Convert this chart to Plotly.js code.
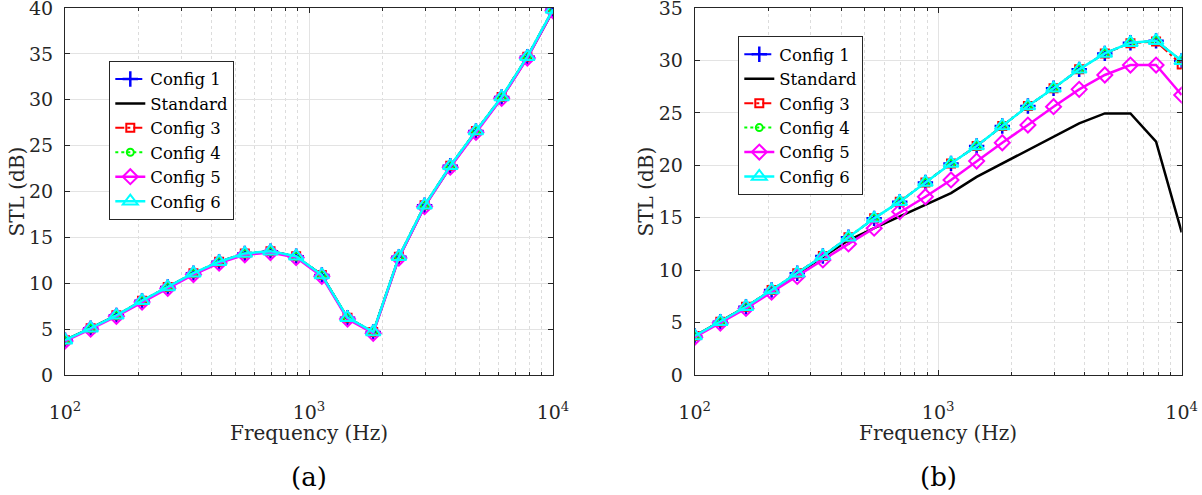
<!DOCTYPE html>
<html>
<head>
<meta charset="utf-8">
<script src="https://cdn.plot.ly/plotly-3.0.1.min.js"></script>
<style>html,body{margin:0;padding:0;background:#fff;}#chart{width:1202px;height:495px;}</style>
</head>
<body>
<div id="chart"></div>
<script>
// 1/3-octave-like frequencies (Hz), 20 points from 100 Hz to 10 kHz
const freq = [100, 127.4, 162.4, 206.9, 263.7, 336.0, 428.1, 545.6, 695.2, 885.9,
              1128.8, 1438.4, 1832.9, 2335.7, 2976.4, 3792.7, 4832.9, 6158.5, 7847.6, 10000];

const seriesNames = ['Config 1', 'Standard', 'Config 3', 'Config 4', 'Config 5', 'Config 6'];

// Panel (a) STL values (dB)
const a_config1  = [3.8, 5.1, 6.5, 8.1, 9.6, 11.1, 12.35, 13.25, 13.5, 12.95, 10.9, 6.25, 4.7, 12.9, 18.5, 22.8, 26.6, 30.3, 34.7, 39.85];
const a_standard = [3.8, 5.1, 6.5, 8.0, 9.6, 11.0, 12.3, 13.2, 13.45, 12.9, 10.85, 6.2, 4.65, 12.8, 18.4, 22.7, 26.5, 30.2, 34.6, 39.7];
const a_config3  = [3.8, 5.1, 6.5, 8.1, 9.6, 11.1, 12.35, 13.25, 13.5, 12.95, 10.9, 6.25, 4.7, 12.9, 18.5, 22.8, 26.6, 30.3, 34.7, 39.85];
const a_config4  = [3.8, 5.1, 6.5, 8.1, 9.6, 11.1, 12.35, 13.25, 13.5, 12.95, 10.9, 6.25, 4.7, 12.9, 18.5, 22.8, 26.6, 30.3, 34.7, 39.85];
const a_config5  = [3.7, 5.0, 6.4, 7.95, 9.45, 10.95, 12.2, 13.1, 13.35, 12.8, 10.75, 6.1, 4.55, 12.75, 18.35, 22.65, 26.45, 30.15, 34.55, 39.7];
const a_config6  = [3.8, 5.1, 6.5, 8.1, 9.6, 11.1, 12.35, 13.25, 13.5, 12.95, 10.9, 6.25, 4.7, 12.9, 18.5, 22.8, 26.6, 30.3, 34.7, 39.85];

// Panel (b) STL values (dB)
const b_config1  = [3.72, 5.08, 6.51, 8.1, 9.7, 11.35, 13.13, 14.94, 16.53, 18.37, 20.18, 21.84, 23.75, 25.65, 27.34, 29.15, 30.67, 31.69, 31.88, 29.97];
const b_standard = [3.72, 5.08, 6.5, 8.05, 9.65, 11.25, 12.85, 14.0, 15.1, 16.2, 17.35, 18.9, 20.18, 21.5, 22.8, 24.0, 24.95, 24.95, 22.25, 13.6];
const b_config3  = [3.72, 5.08, 6.51, 8.1, 9.7, 11.35, 13.13, 14.94, 16.53, 18.37, 20.18, 21.84, 23.75, 25.65, 27.34, 29.15, 30.67, 31.65, 31.8, 29.6];
const b_config4  = [3.72, 5.08, 6.51, 8.1, 9.7, 11.35, 13.13, 14.94, 16.53, 18.37, 20.18, 21.84, 23.75, 25.65, 27.34, 29.15, 30.67, 31.69, 31.88, 29.97];
const b_config5  = [3.6, 4.95, 6.35, 7.9, 9.4, 10.97, 12.5, 14.0, 15.58, 17.0, 18.6, 20.4, 22.15, 23.84, 25.59, 27.24, 28.61, 29.56, 29.56, 26.7];
const b_config6  = [3.72, 5.08, 6.51, 8.1, 9.7, 11.35, 13.13, 14.94, 16.53, 18.37, 20.18, 21.84, 23.75, 25.65, 27.34, 29.15, 30.67, 31.69, 31.88, 29.97];

const xTickVals = [100, 1000, 10000];
const xTickText = ['10<sup>2</sup>', '10<sup>3</sup>', '10<sup>4</sup>'];
const xMinorVals = [200, 300, 400, 500, 600, 700, 800, 900, 2000, 3000, 4000, 5000, 6000, 7000, 8000, 9000];
const yTickValsA = [0, 5, 10, 15, 20, 25, 30, 35, 40];
const yTickValsB = [0, 5, 10, 15, 20, 25, 30, 35];

const FONT = 'DejaVu Serif';
const AX = '#262626';

const styles = [
  {mode: 'lines+markers', line: {color: '#0000ff', width: 2, dash: 'dash'}, marker: {symbol: 'cross-thin-open', size: 11, color: '#0000ff', line: {width: 2.5, color: '#0000ff'}}},
  {mode: 'lines', line: {color: '#000000', width: 2.5}},
  {mode: 'lines+markers', line: {color: '#ff0000', width: 2, dash: 'dashdot'}, marker: {symbol: 'square-open', size: 8, color: '#ff0000', line: {width: 2, color: '#ff0000'}}},
  {mode: 'lines+markers', line: {color: '#00ff00', width: 2, dash: 'dot'}, marker: {symbol: 'circle-open', size: 7, color: '#00ff00', line: {width: 2, color: '#00ff00'}}},
  {mode: 'lines+markers', line: {color: '#ff00ff', width: 2.5}, marker: {symbol: 'diamond-open', size: 11.5, color: '#ff00ff', line: {width: 2, color: '#ff00ff'}}},
  {mode: 'lines+markers', line: {color: '#00ffff', width: 2.5}, marker: {symbol: 'triangle-up-open', size: 13, color: '#00ffff', line: {width: 2, color: '#00ffff'}}}
];

const aData = [a_config1, a_standard, a_config3, a_config4, a_config5, a_config6];
const bData = [b_config1, b_standard, b_config3, b_config4, b_config5, b_config6];

const traces = [];
aData.forEach((ys, i) => {
  traces.push(Object.assign({
    type: 'scatter', x: freq, y: ys, xaxis: 'x', yaxis: 'y', legend: 'legend',
    name: seriesNames[i]
  }, JSON.parse(JSON.stringify(styles[i]))));
});
bData.forEach((ys, i) => {
  traces.push(Object.assign({
    type: 'scatter', x: freq, y: ys, xaxis: 'x2', yaxis: 'y2', legend: 'legend2',
    name: seriesNames[i]
  }, JSON.parse(JSON.stringify(styles[i]))));
});

function xAxis(domain, anchor) {
  return {
    type: 'log', range: [2, 4], domain: domain, anchor: anchor,
    tickvals: xTickVals, ticktext: xTickText,
    ticks: 'inside', ticklen: 5, tickcolor: AX, tickwidth: 1,
    showline: true, linecolor: AX, linewidth: 1, mirror: 'ticks',
    showgrid: true, gridcolor: '#e3e3e3', gridwidth: 1,
    minor: {tickvals: xMinorVals, ticks: 'inside', ticklen: 3, tickcolor: AX, showgrid: true, gridcolor: '#dcdcdc', griddash: 'dot', gridwidth: 1},
    tickfont: {family: FONT, size: 19, color: AX},
    ticklabelstandoff: 20, ticklabeloverflow: 'allow',
    zeroline: false, automargin: false
  };
}
function yAxis(domain, anchor, maxv, tv) {
  return {
    range: [0, maxv], domain: domain, anchor: anchor, tickmode: 'array', tickvals: tv,
    ticks: 'inside', ticklen: 5, tickcolor: AX, tickwidth: 1,
    showline: true, linecolor: AX, linewidth: 1, mirror: 'ticks',
    showgrid: true, gridcolor: '#e3e3e3', gridwidth: 1,
    tickfont: {family: FONT, size: 19, color: AX},
    ticklabelstandoff: 7, ticklabeloverflow: 'allow',
    zeroline: false, automargin: false
  };
}

const yDom = [120 / 495, 487 / 495];
const layout = {
  width: 1202, height: 495,
  margin: {l: 0, r: 0, t: 0, b: 0},
  font: {family: FONT},
  paper_bgcolor: '#ffffff', plot_bgcolor: '#ffffff',
  showlegend: true,
  xaxis: xAxis([65 / 1202, 553 / 1202], 'y'),
  yaxis: yAxis(yDom, 'x', 40, yTickValsA),
  xaxis2: xAxis([694.7 / 1202, 1181.7 / 1202], 'y2'),
  yaxis2: yAxis(yDom, 'x2', 35, yTickValsB),
  legend: {x: 109.3 / 1202, y: 1 - 60.7 / 495, xanchor: 'left', yanchor: 'top', bgcolor: '#ffffff',
           bordercolor: AX, borderwidth: 1, font: {family: FONT, size: 16.5, color: '#000000'}, tracegroupgap: 0},
  legend2: {x: 738.3 / 1202, y: 1 - 36 / 495, xanchor: 'left', yanchor: 'top', bgcolor: '#ffffff',
           bordercolor: AX, borderwidth: 1, font: {family: FONT, size: 16.5, color: '#000000'}, tracegroupgap: 0},
  annotations: [
    {text: 'STL (dB)', textangle: -90, xref: 'paper', yref: 'paper', x: 17 / 1202, y: 1 - 191.5 / 495, xanchor: 'center', yanchor: 'middle', showarrow: false, font: {family: FONT, size: 20, color: AX}},
    {text: 'STL (dB)', textangle: -90, xref: 'paper', yref: 'paper', x: 646 / 1202, y: 1 - 191.5 / 495, xanchor: 'center', yanchor: 'middle', showarrow: false, font: {family: FONT, size: 20, color: AX}},
    {text: 'Frequency (Hz)', xref: 'paper', yref: 'paper', x: 309 / 1202, y: 1 - 433 / 495, xanchor: 'center', yanchor: 'middle', showarrow: false, font: {family: FONT, size: 20, color: AX}},
    {text: 'Frequency (Hz)', xref: 'paper', yref: 'paper', x: 938 / 1202, y: 1 - 433 / 495, xanchor: 'center', yanchor: 'middle', showarrow: false, font: {family: FONT, size: 20, color: AX}},
    {text: '(a)', xref: 'paper', yref: 'paper', x: 309 / 1202, y: 1 - 477 / 495, xanchor: 'center', yanchor: 'middle', showarrow: false, font: {family: FONT, size: 26, color: '#000000'}},
    {text: '(b)', xref: 'paper', yref: 'paper', x: 938 / 1202, y: 1 - 477 / 495, xanchor: 'center', yanchor: 'middle', showarrow: false, font: {family: FONT, size: 26, color: '#000000'}}
  ]
};

Plotly.newPlot('chart', traces, layout, {displayModeBar: false, staticPlot: true});
</script>
</body>
</html>
